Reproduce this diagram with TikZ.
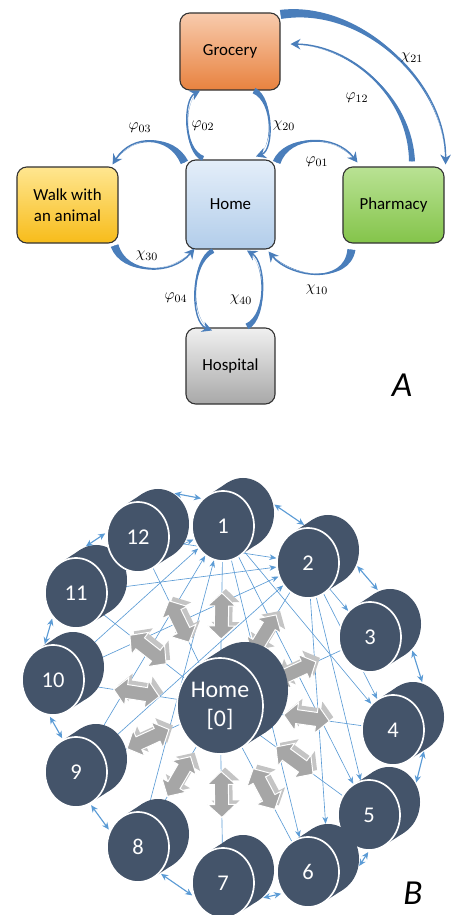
\documentclass[tikz,border=0pt]{standalone}
\usepackage{fontspec}
\setmainfont{Carlito}
\usetikzlibrary{arrows.meta,calc,shapes.geometric}
\pgfdeclarelayer{background}
\pgfsetlayers{background,main}

\definecolor{flowblue}{HTML}{4A7EBB}
\definecolor{discblue}{HTML}{44546A}
\definecolor{meshblue}{HTML}{5B9BD5}
\definecolor{arrowgrey}{HTML}{A6A6A6}
\definecolor{arrowshade}{HTML}{C4C4C4}
\definecolor{grocerytop}{HTML}{F8CBAD}
\definecolor{grocerybot}{HTML}{E8823F}
\definecolor{hometop}{HTML}{E4EEF9}
\definecolor{homebot}{HTML}{B2CDEA}
\definecolor{walktop}{HTML}{FFE690}
\definecolor{walkbot}{HTML}{F7BC1A}
\definecolor{pharmtop}{HTML}{B9E294}
\definecolor{pharmbot}{HTML}{84C44A}
\definecolor{hosptop}{HTML}{F0F0F0}
\definecolor{hospbot}{HTML}{A8A8A8}

\tikzset{
  place/.style={draw=black!80, line width=0.8pt, rounded corners=7pt,
    align=center, inner sep=0pt, font=\fontsize{12}{15}\selectfont},
  flowfill/.style={fill=flowblue},
  flowline/.style={draw=flowblue, line width=1pt,
    -{Stealth[length=7pt,width=7.5pt]}},
  rate/.style={font=\fontsize{11}{11}\selectfont},
  discback/.style={ellipse, fill=discblue, inner sep=0pt,
    minimum width=1.55cm, minimum height=1.75cm},
  discfront/.style={discback, draw=white, line width=1.2pt, text=white,
    font=\fontsize{16}{16}\selectfont},
  mesh/.style={meshblue, line width=0.45pt},
  meshto/.style={mesh, -{Stealth[length=5pt,width=4pt]}},
  ringlink/.style={meshblue, line width=0.8pt, shorten <=1pt, shorten >=1pt,
    {Stealth[length=5pt,width=4.5pt]}-{Stealth[length=5pt,width=4.5pt]}},
  dblarrow/.pic={
    \path[pic actions] (-23,0) -- (-10,-14) -- (-10,-7) -- (10,-7)
      -- (10,-14) -- (23,0) -- (10,14) -- (10,7) -- (-10,7) -- (-10,14)
      -- cycle;
  },
  tag/.style={font=\fontsize{25}{25}\selectfont\itshape}
}

% tapered flow: tail, control 1, control 2, head, half width at the tail
\newcommand{\swoosh}[5]{%
  \fill[flowfill] ($(#1)+(#5)$)
    .. controls ($(#2)+0.6*(#5)$) and ($(#3)+0.25*(#5)$) .. (#4)
    .. controls ($(#3)-0.25*(#5)$) and ($(#2)-0.6*(#5)$) .. ($(#1)-(#5)$)
    -- cycle;
  \draw[flowline] (#1) .. controls (#2) and (#3) .. (#4);
}

\begin{document}
\begin{tikzpicture}[x=0.025cm, y=-0.025cm]
  \useasboundingbox (0,0) rectangle (452,915);

  % ---- A: places and flows ----
  \node[place, minimum width=2.5cm, minimum height=1.925cm,
    top color=grocerytop, bottom color=grocerybot]
    (grocery) at (230,51.5) {Grocery};
  \node[place, minimum width=2.225cm, minimum height=2.225cm,
    top color=hometop, bottom color=homebot]
    (home) at (230.5,204.5) {Home};
  \node[place, minimum width=2.525cm, minimum height=1.9cm,
    top color=walktop, bottom color=walkbot]
    (walk) at (67.5,205) {Walk with\\an animal};
  \node[place, minimum width=2.525cm, minimum height=1.9cm,
    top color=pharmtop, bottom color=pharmbot]
    (pharmacy) at (393.5,205) {Pharmacy};
  \node[place, minimum width=2.225cm, minimum height=1.9cm,
    top color=hosptop, bottom color=hospbot]
    (hospital) at (230.5,366) {Hospital};

  \coordinate (t03) at ($(home.north west)+(-1,3)$);
  \coordinate (h03) at ($(walk.north east)+(-6,-2)$);
  \coordinate (t02) at ($(home.north)+(-27.5,-1)$);
  \coordinate (h02) at ($(grocery.south)+(-30,0)$);
  \coordinate (t20) at ($(grocery.south)+(24,0)$);
  \coordinate (h20) at ($(home.north)+(25.5,-3)$);
  \coordinate (t01) at ($(home.north east)+(1,3)$);
  \coordinate (h01) at ($(pharmacy.north west)+(15,-4)$);
  \coordinate (t12) at ($(pharmacy.north)+(18.5,-5)$);
  \coordinate (h12) at ($(grocery.east)+(10,-7.5)$);
  \coordinate (t21) at ($(grocery.north east)+(0,2)$);
  \coordinate (h21) at ($(pharmacy.north east)+(1,-2)$);
  \coordinate (t30) at ($(walk.south east)+(-4,2)$);
  \coordinate (h30) at ($(home.south west)+(9,-1)$);
  \coordinate (t10) at ($(pharmacy.south west)+(9,6)$);
  \coordinate (h10) at ($(home.south east)+(-7,2)$);
  \coordinate (t04) at ($(home.south)+(-17.5,1)$);
  \coordinate (h04) at ($(hospital.north)+(-18.5,3)$);
  \coordinate (t40) at ($(hospital.north)+(16.5,-1)$);
  \coordinate (h40) at ($(home.south)+(16.5,1)$);

  \swoosh{t03}{172,135}{132,133}{h03}{3.6,-1.7}
  \swoosh{t02}{183,150}{183,100}{h02}{-1,2.3}
  \swoosh{t20}{274,100}{274,150}{h20}{-1.3,2.7}
  \swoosh{t01}{287,135}{335,133}{h01}{3.7,1.5}
  \swoosh{t12}{410,95}{350,45}{h12}{3,0}
  \swoosh{t21}{360,3}{446,80}{h21}{0.7,4.5}
  \swoosh{t30}{124,275}{172,276}{h30}{3.8,-1.3}
  \swoosh{t10}{347,285}{290,278}{h10}{4,0.5}
  \swoosh{t04}{190,262}{190,322}{h04}{1.2,2.2}
  \swoosh{t40}{268,316}{266,262}{h40}{1.4,2.7}

  \node[rate] (l03) at (140,128) {$\varphi_{03}$};
  \node[rate] (l02) at (203,126) {$\varphi_{02}$};
  \node[rate] (l20) at (284,126) {$\chi_{20}$};
  \node[rate] (l01) at (317,162) {$\varphi_{01}$};
  \node[rate] (l12) at (357,98) {$\varphi_{12}$};
  \node[rate] (l21) at (412,58) {$\chi_{21}$};
  \node[rate] (l30) at (147,256) {$\chi_{30}$};
  \node[rate] (l10) at (317,290) {$\chi_{10}$};
  \node[rate] (l04) at (176,298) {$\varphi_{04}$};
  \node[rate] (l40) at (241,300) {$\chi_{40}$};

  \node[tag] (tagA) at (402,385) {A};

  % ---- B: home and the twelve places around it ----
  % each place is a short cylinder: back face, side band, front face
  \foreach \s/\x/\y in {1/223/526,2/308/563,3/370/637,4/393/730,
      5/369/815,6/308/872,7/223/883,8/138/847,9/76/772,10/53/680,
      11/76/593,12/138/537}{
    \node[discback] (b\s) at (\x+20,\y-13) {};
    \fill[discblue] (\x+15.5,\y+30.3) -- (\x-15.5,\y-30.3)
      -- (\x+4.5,\y-43.3) -- (\x+35.5,\y+17.3) -- cycle;
    \node[discfront] (f\s) at (\x,\y) {\s};
  }
  \node[discback, minimum width=2.15cm, minimum height=2.4cm]
    (b0) at (245,690) {};
  \fill[discblue] (241.4,747.7) -- (198.6,664.3) -- (223.6,648.3)
    -- (266.4,731.7) -- cycle;
  \node[discfront, minimum width=2.15cm, minimum height=2.4cm,
    align=center, font=\fontsize{17}{21}\selectfont]
    (f0) at (220,706) {Home\\{[0]}};

  \begin{pgfonlayer}{background}
    \foreach \s in {1,...,12}
      \draw[mesh] (f0) -- (f\s);
    \foreach \s in {8,...,11}
      \draw[meshto] (f\s) -- (f1);
    \foreach \s in {9,...,12}
      \draw[meshto] (f\s) -- (f2);
    \foreach \s in {f4,f5,f6}
      \draw[meshto] (f1) -- (\s);
    \foreach \s in {f3,f4,f5,b6}
      \draw[meshto] (f2) -- (\s);
    % grey two-way arrows between home and each place
    \foreach \s in {1,...,12}
      \path let \p1=($(f\s)-(f0)$), \n1={atan2(\y1,\x1)} in
        ($(f0)!0.5!(f\s)+(4,-4)$) pic[rotate=\n1, fill=arrowshade] {dblarrow}
        ($(f0)!0.5!(f\s)$) pic[rotate=\n1, fill=arrowgrey, draw=white,
          line width=0.7pt] {dblarrow};
  \end{pgfonlayer}

  % links between neighbouring places
  \draw[ringlink] (b12.64) -- (f1.127);
  \draw[ringlink] (b1.17) -- (b2.133);
  \draw[ringlink] (b2.-28) -- (b3.109);
  \draw[ringlink] (b3.-49) -- (b4.74);
  \draw[ringlink] (b4.-71) -- (b5.34);
  \draw[ringlink] (f5.-90) -- (b6.-15);
  \draw[ringlink] (f6.-140) -- (b7.-56);
  \draw[ringlink] (f7.-156) -- (f8.-50);
  \draw[ringlink] (f8.150) -- (f9.-66);
  \draw[ringlink] (f9.112) -- (f10.-96);
  \draw[ringlink] (f10.104) -- (f11.-134);
  \draw[ringlink] (b11.109) -- (f12.172);

  \node[tag] (tagB) at (413,893) {B};
\end{tikzpicture}
\end{document}
